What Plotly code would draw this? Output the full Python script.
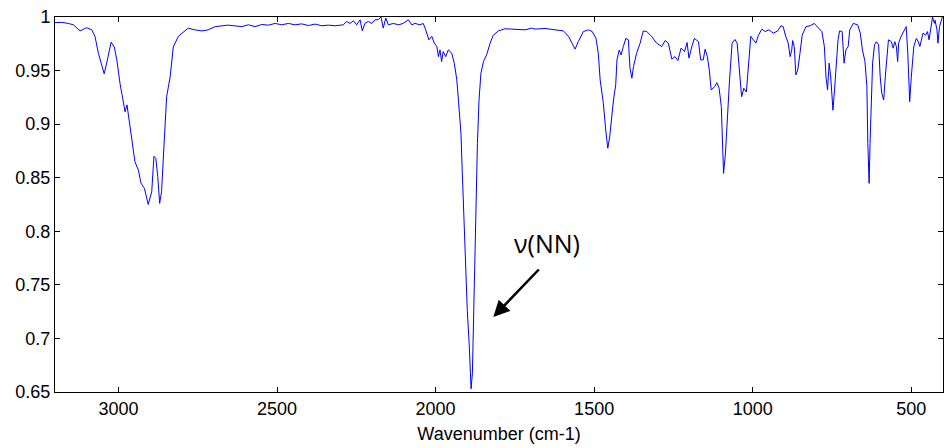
import plotly.graph_objects as go

wavenumber = [
    3200, 3179, 3158, 3142, 3121, 3100, 3084, 3074, 3063, 3053, 3045, 3037, 3023, 3013, 3005,
    2995, 2985, 2979, 2973, 2967, 2956, 2948, 2937, 2929, 2918, 2906, 2895, 2888, 2882, 2876,
    2870, 2864, 2857, 2848, 2837, 2827, 2811, 2795, 2780, 2759, 2737, 2717, 2695,
    2654, 2611, 2590, 2569, 2548, 2527, 2506, 2485, 2464, 2443, 2422, 2401, 2380, 2359, 2338,
    2317, 2291, 2280, 2270, 2259, 2249, 2238, 2231, 2223, 2212, 2201, 2191,
    2181, 2172, 2165, 2157, 2149, 2133, 2117, 2102, 2086, 2075, 2065, 2049, 2039, 2033, 2026,
    2021, 2012, 2004, 1996, 1991, 1986, 1981, 1976, 1968, 1960, 1949, 1941, 1933, 1928, 1920,
    1916, 1912, 1909, 1905, 1900, 1894, 1890, 1888, 1884, 1881, 1876, 1872, 1868, 1863, 1857,
    1849, 1839, 1828, 1818, 1802, 1781, 1760, 1739, 1718, 1697,
    1686, 1655, 1623, 1597, 1581, 1570, 1560, 1550, 1534, 1518, 1506, 1494, 1487, 1481, 1471,
    1463, 1457, 1451, 1446, 1439, 1432, 1428, 1421, 1415, 1408, 1400, 1392, 1387, 1381, 1376,
    1366, 1355, 1345, 1334, 1319, 1303, 1287, 1276, 1266, 1255, 1245, 1236, 1226, 1215, 1207,
    1201, 1192, 1184,
    1171, 1164, 1156, 1150, 1143, 1137, 1131, 1120, 1113, 1106, 1099, 1095, 1092, 1086, 1081,
    1073, 1065, 1056, 1049, 1041, 1035, 1028, 1020, 1012, 1006, 998, 990, 982, 971, 961,
    949, 935, 921, 911, 904, 896, 888, 882, 877, 874, 869, 864, 858, 851, 844,
    832, 819, 806, 791, 782, 774, 769, 764, 759, 754, 747, 742, 737, 731, 726,
    718, 712, 706, 699, 694, 683,
    677, 669, 661, 654, 646, 640, 637, 633, 630, 627, 622, 616, 610, 603, 598,
    593, 587, 582, 577, 572, 563, 557, 552, 547, 543, 540, 532, 527, 521, 516,
    511, 505, 500, 492, 484, 478, 473, 467, 463, 455, 449, 444, 439, 433, 427,
    425, 419, 416, 411, 406, 402,
]

transmittance = [
    0.9947, 0.9950, 0.9940, 0.9927, 0.9870, 0.9900, 0.9880, 0.9820, 0.9660, 0.9550, 0.9470, 0.9570, 0.9765, 0.9720, 0.9600,
    0.9380, 0.9195, 0.9115, 0.9180, 0.9040, 0.8820, 0.8650, 0.8570, 0.8450, 0.8400, 0.8250, 0.8370, 0.8700, 0.8680, 0.8510,
    0.8260, 0.8370, 0.8760, 0.9255, 0.9440, 0.9720, 0.9820, 0.9855, 0.9896, 0.9880, 0.9870, 0.9880, 0.9910,
    0.9924, 0.9910, 0.9927, 0.9910, 0.9930, 0.9924, 0.9940, 0.9927, 0.9940, 0.9927, 0.9936, 0.9920, 0.9934, 0.9918, 0.9924,
    0.9918, 0.9927, 0.9958, 0.9940, 0.9964, 0.9927, 0.9974, 0.9870, 0.9940, 0.9958, 0.9940, 0.9974,
    0.9974, 1.0000, 0.9896, 0.9990, 0.9927, 0.9940, 0.9927, 0.9940, 0.9974, 0.9927, 0.9940, 0.9927, 0.9940, 0.9896, 0.9830,
    0.9787, 0.9820, 0.9756, 0.9724, 0.9630, 0.9693, 0.9584, 0.9677, 0.9630, 0.9693, 0.9662, 0.9569, 0.9413, 0.9226, 0.8915,
    0.8570, 0.8200, 0.7886, 0.7575, 0.7260, 0.6950, 0.6670, 0.6530, 0.6670, 0.7107, 0.7730, 0.8354, 0.8820, 0.9226, 0.9475,
    0.9584, 0.9647, 0.9756, 0.9830, 0.9870, 0.9890, 0.9887, 0.9880, 0.9880, 0.9896,
    0.9887, 0.9893, 0.9880, 0.9870, 0.9820, 0.9756, 0.9700, 0.9770, 0.9864, 0.9880, 0.9864, 0.9800, 0.9662, 0.9413, 0.9195,
    0.8930, 0.8775, 0.8880, 0.9040, 0.9226, 0.9366, 0.9600, 0.9690, 0.9647, 0.9724, 0.9800, 0.9787, 0.9522, 0.9429, 0.9537,
    0.9662, 0.9756, 0.9870, 0.9864, 0.9820, 0.9756, 0.9724, 0.9780, 0.9756, 0.9607, 0.9630, 0.9593, 0.9709, 0.9677, 0.9762,
    0.9616, 0.9724, 0.9800,
    0.9770, 0.9600, 0.9600, 0.9700, 0.9630, 0.9506, 0.9320, 0.9350, 0.9387, 0.9335, 0.9163, 0.8820, 0.8540, 0.8727, 0.9008,
    0.9413, 0.9756, 0.9790, 0.9756, 0.9440, 0.9256, 0.9335, 0.9300, 0.9600, 0.9820, 0.9787, 0.9756, 0.9830, 0.9887, 0.9864,
    0.9880, 0.9849, 0.9870, 0.9918, 0.9910, 0.9820, 0.9756, 0.9630, 0.9693, 0.9780, 0.9724, 0.9460, 0.9506, 0.9662, 0.9830,
    0.9910, 0.9918, 0.9940, 0.9896, 0.9864, 0.9724, 0.9440, 0.9320, 0.9569, 0.9440, 0.9130, 0.9320, 0.9537, 0.9787, 0.9870,
    0.9864, 0.9569, 0.9693, 0.9724, 0.9880, 0.9940,
    0.9936, 0.9927, 0.9850, 0.9693, 0.9584, 0.9350, 0.8820, 0.8447, 0.8820, 0.9195, 0.9569, 0.9740, 0.9770, 0.9740, 0.9440,
    0.9288, 0.9226, 0.9440, 0.9630, 0.9787, 0.9770, 0.9709, 0.9770, 0.9724, 0.9584, 0.9756, 0.9820, 0.9850, 0.9880, 0.9910,
    0.9662, 0.9210, 0.9440, 0.9724, 0.9800, 0.9770, 0.9724, 0.9820, 0.9850, 0.9830, 0.9864, 0.9787, 0.9910, 1.0000, 0.9940,
    0.9970, 0.9880, 0.9756, 0.9910, 0.9970, 1.0000,
]

x_ticks = [3000, 2500, 2000, 1500, 1000, 500]
y_ticks = [0.65, 0.7, 0.75, 0.8, 0.85, 0.9, 0.95, 1.0]
y_tick_text = ["0.65", "0.7", "0.75", "0.8", "0.85", "0.9", "0.95", "1"]

fig = go.Figure()
fig.add_trace(go.Scatter(
    x=wavenumber, y=transmittance, mode="lines",
    line=dict(color="#0000FF", width=1), showlegend=False,
))

axis_font = dict(family="Liberation Sans, Arial, sans-serif", size=18, color="black")

fig.update_layout(
    width=944, height=448,
    margin=dict(l=55, r=1, t=17, b=56),
    paper_bgcolor="white", plot_bgcolor="white",
    font=axis_font,
    xaxis=dict(
        range=[3200, 400], tickvals=x_ticks,
        ticks="inside", ticklen=5, tickcolor="black", tickwidth=1,
        showline=True, linecolor="black", linewidth=1, mirror="allticks",
        showgrid=False, zeroline=False, tickfont=axis_font,
        title=dict(text="Wavenumber (cm-1)", font=axis_font, standoff=9),
    ),
    yaxis=dict(
        range=[0.65, 1.0], tickvals=y_ticks, ticktext=y_tick_text,
        ticks="inside", ticklen=5, tickcolor="black", tickwidth=1,
        showline=True, linecolor="black", linewidth=1, mirror="allticks",
        showgrid=False, zeroline=False, tickfont=axis_font,
    ),
    annotations=[
        dict(x=1818, y=0.72, xref="x", yref="y", text="", showarrow=True,
             ax=47, ay=-49, arrowhead=2, arrowsize=1.3, arrowwidth=2.5,
             arrowcolor="black", standoff=0),
        dict(x=1649, y=0.789, xref="x", yref="y", text="ν(NN)", showarrow=False,
             font=dict(family="Open Sans, sans-serif", size=25, color="black")),
    ],
)

fig.write_html("out.html")
